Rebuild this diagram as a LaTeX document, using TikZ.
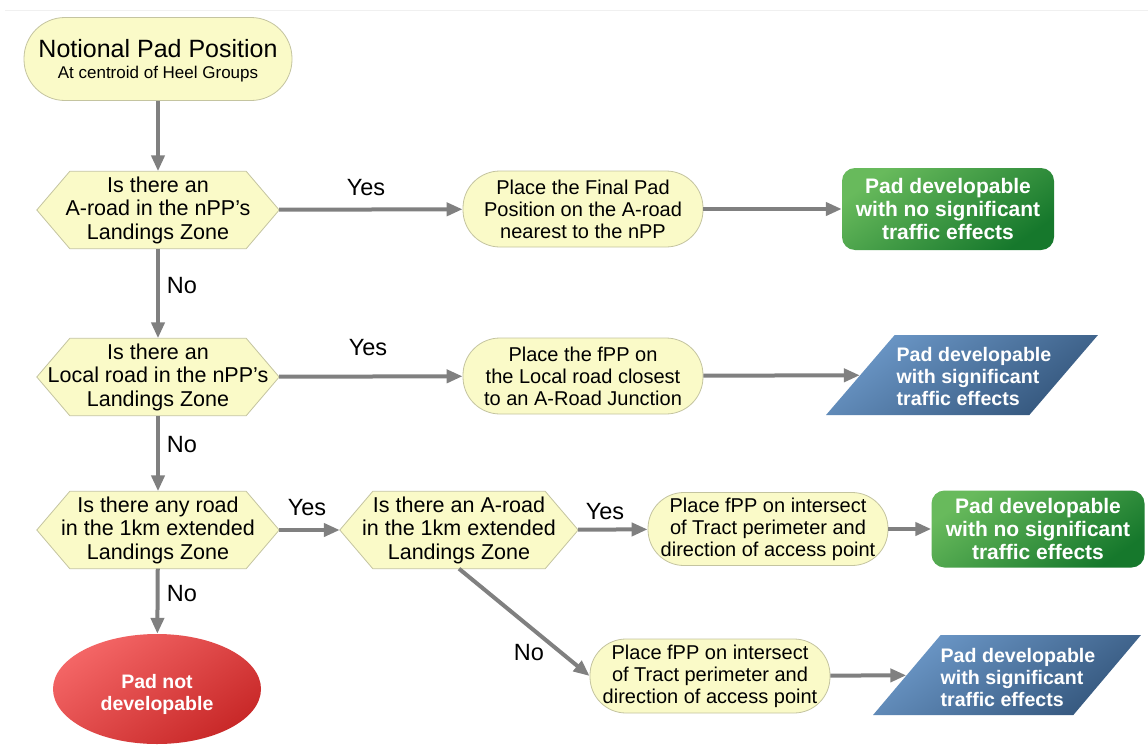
\documentclass[tikz,border=0pt]{standalone}
\usepackage{fontspec}
\setmainfont{Liberation Sans}
\usetikzlibrary{shapes.geometric,arrows.meta,backgrounds}

\definecolor{padyellow}{RGB}{250,250,200}
\definecolor{padedge}{RGB}{196,196,160}
\definecolor{flowgray}{RGB}{128,128,128}
\definecolor{greenlight}{RGB}{104,186,92}
\definecolor{greendark}{RGB}{22,120,44}
\definecolor{bluelight}{RGB}{108,152,200}
\definecolor{bluedark}{RGB}{52,86,124}
\definecolor{redlight}{RGB}{244,102,102}
\definecolor{reddark}{RGB}{200,40,40}

\tikzset{
  txt/.style={font=\fontsize{20}{22}\selectfont, align=center, inner sep=0pt},
  decision/.style={txt, font=\fontsize{21.5}{23.5}\selectfont,
    shape=rectangle, minimum width=242pt, minimum height=77pt},
  hexfill/.style={fill=padyellow, draw=padedge, line width=0.8pt},
  process/.style={txt, shape=rectangle, rounded corners=37pt, fill=padyellow,
    draw=padedge, line width=0.8pt, minimum width=240pt, minimum height=76pt},
  goodend/.style={txt, font=\fontsize{21}{23}\selectfont\bfseries, text=white,
    shape=rectangle, rounded corners=13pt, minimum width=212pt, minimum height=82pt,
    top color=greenlight, bottom color=greendark, shading angle=35},
  trafficend/.style={shape=trapezium, trapezium stretches=true,
    trapezium left angle=63, trapezium right angle=117,
    minimum width=272pt, minimum height=80pt, inner sep=3pt,
    top color=bluelight, bottom color=bluedark, shading angle=35},
  whitebold/.style={font=\fontsize{19.6}{22}\selectfont\bfseries, text=white,
    inner sep=0pt},
  failend/.style={shape=ellipse, minimum width=208pt, minimum height=110pt,
    inner sep=3pt, top color=redlight, bottom color=reddark, shading angle=35},
  flow/.style={draw=flowgray, line width=4pt,
    -{Triangle[length=16pt,width=13pt]}},
  lbl/.style={font=\fontsize{23.5}{25}\selectfont, inner sep=0pt}
}

\begin{document}
\begin{tikzpicture}[x=1pt,y=-1pt]
\useasboundingbox (0,0) rectangle (1148,744);

% start
\node[process, rounded corners=41pt, minimum width=268pt, minimum height=83pt] (start) at (158,59)
  {\rule{0pt}{6pt}\\[-6pt]{\fontsize{25}{28}\selectfont Notional Pad Position}\\[-1pt]
   {\fontsize{17}{20}\selectfont At centroid of Heel Groups}};

% decisions (hexagonal outlines are drawn behind them below)
\node[decision] (h1) at (158,210) {Is there an\\A-road in the nPP’s\\Landings Zone};
\node[decision] (h2) at (158,377) {Is there an\\Local road in the nPP’s\\Landings Zone};
\node[decision] (h3) at (158,530) {Is there any road\\in the 1km extended\\Landings Zone};
\node[decision, minimum width=238pt] (h4) at (459,530) {Is there an A-road\\in the 1km extended\\Landings Zone};

\begin{scope}[on background layer]
  \fill[white] (0,0) rectangle (1148,744);
  \draw[gray!12, line width=1pt] (5,10) -- (1148,10);
  \foreach \n in {h1,h2,h3,h4}
    \filldraw[hexfill] (\n.west) -- ([xshift=33pt]\n.north west)
      -- ([xshift=-33pt]\n.north east) -- (\n.east)
      -- ([xshift=-33pt]\n.south east) -- ([xshift=33pt]\n.south west) -- cycle;
\end{scope}

% actions
\node[process] (p1) at (583,209) {Place the Final Pad\\Position on the A-road\\nearest to the nPP};
\node[process] (p2) at (583,376) {Place the fPP on\\the Local road closest\\to an A-Road Junction};
\node[process, minimum height=73pt, rounded corners=36pt] (p3) at (768,529) {Place fPP on intersect\\of Tract perimeter and\\direction of access point};
\node[process, minimum height=74pt, rounded corners=36pt] (p4) at (710,676) {Place fPP on intersect\\of Tract perimeter and\\direction of access point};

% outcomes
\node[goodend] (g1) at (948,209) {Pad developable\\with no significant\\traffic effects};
\node[goodend, minimum width=213pt, minimum height=77pt] (g2) at (1038,529) {Pad developable\\with no significant\\traffic effects};
\node[trafficend, label={[whitebold, align=left, xshift=12pt, yshift=-1pt]center:Pad developable\\with significant\\traffic effects}] (b1) at (962,375) {};
\node[trafficend, minimum width=268pt, label={[whitebold, align=left, xshift=11pt, yshift=-2pt]center:Pad developable\\with significant\\traffic effects}] (b2) at (1007,675) {};
\node[failend, label={[whitebold, font=\fontsize{19.5}{22}\selectfont\bfseries, align=center, yshift=-5pt]center:Pad not\\developable}] (r) at (157,689) {};

% connectors
\draw[flow] (start) -- (h1);
\draw[flow] (h1) -- (p1);
\draw[flow] (p1) -- (g1);
\draw[flow] (h1) -- (h2);
\draw[flow] (h2) -- (p2);
\draw[flow] (p2) -- (b1);
\draw[flow] (h2) -- (h3);
\draw[flow] (h3) -- (h4);
\draw[flow] (h4) -- (p3);
\draw[flow] (p3) -- (g2);
\draw[flow] (h3) -- (r);
\draw[flow] (h4.south) -- (p4.west);
\draw[flow] (p4) -- (b2);

% branch labels
\node[lbl] (y1) at (366,188) {Yes};
\node[lbl] (y2) at (368,348) {Yes};
\node[lbl] (y3) at (307,508) {Yes};
\node[lbl] (y4) at (605,512) {Yes};
\node[lbl] (n1) at (182,286) {No};
\node[lbl] (n2) at (182,445) {No};
\node[lbl] (n3) at (182,594) {No};
\node[lbl] (n4) at (529,653) {No};
\end{tikzpicture}
\end{document}
